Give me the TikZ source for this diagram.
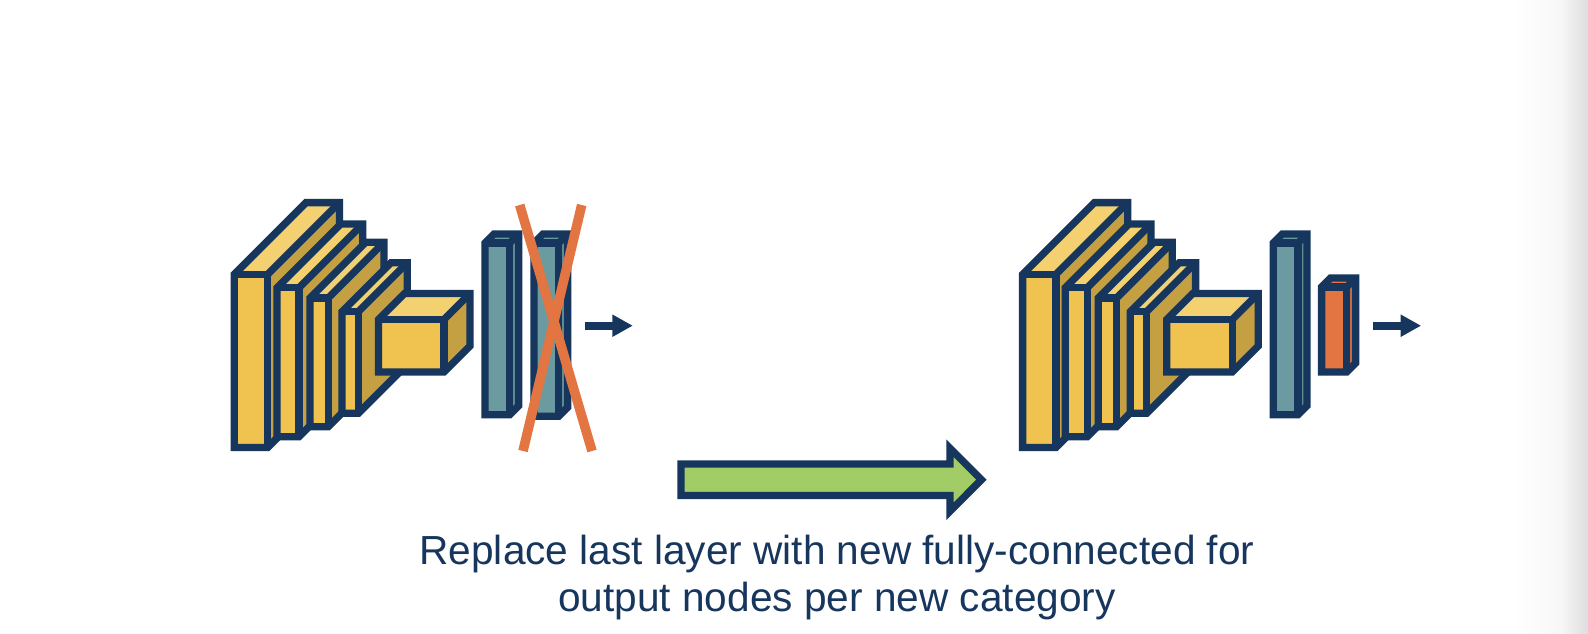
\documentclass[tikz,border=0pt]{standalone}
\usepackage{fontspec}
\setmainfont{Liberation Sans}
\usetikzlibrary{arrows.meta}
\definecolor{navy}{HTML}{17365D}
\definecolor{yfront}{HTML}{F0C250}
\definecolor{ytop}{HTML}{F3D070}
\definecolor{yside}{HTML}{C4A042}
\definecolor{teal1}{HTML}{6B9AA1}
\definecolor{teal2}{HTML}{5F8B90}
\definecolor{orange1}{HTML}{E37542}
\definecolor{orange2}{HTML}{C96A3E}
\definecolor{green1}{HTML}{A2CD66}
\tikzset{
  boxedge/.style={draw=navy,line width=7.3pt,line join=miter,miter limit=10},
  crossbar/.style={draw=orange1,line width=9.6pt},
  flowarrow/.style={draw=navy,line width=7.6pt,-{Triangle[length=20.5pt,width=21pt]}},
  bigarrow/.style={boxedge,fill=green1},
  caption/.style={text=navy,font=\fontsize{40.6pt}{46pt}\selectfont,align=center,inner sep=0pt}
}
\newcommand{\layerbox}[8]{%
  \coordinate (A) at (#1,#2);
  \coordinate (B) at (#3,#2);
  \coordinate (C) at (#3,#4);
  \coordinate (D) at (#1,#4);
  \coordinate (E) at ([shift={(#5,-#5)}]A);
  \coordinate (F) at ([shift={(#5,-#5)}]B);
  \coordinate (G) at ([shift={(#5,-#5)}]C);
  \fill[#7] (A) -- (B) -- (F) -- (E) -- cycle;
  \fill[#8] (B) -- (C) -- (G) -- (F) -- cycle;
  \fill[#6] (A) -- (B) -- (C) -- (D) -- cycle;
  \draw[boxedge] (A) -- (E) -- (F) -- (G) -- (C) -- (D) -- cycle;
  \draw[boxedge] (A) -- (B) -- (C);
  \draw[boxedge] (B) -- (F);
}
\newcommand{\convstack}{%
  \layerbox{234.3}{274.3}{267.7}{447.4}{71.7}{yfront}{ytop}{yside}
  \layerbox{277}{287.7}{299}{436.7}{63.7}{yfront}{ytop}{yside}
  \layerbox{310}{298}{328.3}{426.7}{55.7}{yfront}{ytop}{yside}
  \layerbox{342}{311.7}{358.3}{413.3}{49}{yfront}{ytop}{yside}
  \layerbox{378.5}{319.5}{444}{372}{26}{yfront}{ytop}{yside}
}
\begin{document}
\begin{tikzpicture}[x=1pt,y=-1pt]
  \useasboundingbox (0,0) rectangle (1588,634);
  \fill[white] (0,0) rectangle (1588,634);
  \shade[left color=white,right color=black!3] (1515,0) rectangle (1560,634);
  \shade[left color=black!3,right color=black!13] (1560,0) rectangle (1588,634);

  % left network
  \begin{scope}
    \convstack
    \layerbox{485}{243}{509.7}{414.7}{9}{teal1}{teal1}{teal2}
    \layerbox{534}{243}{558.7}{416.2}{9}{teal1}{teal1}{teal2}
    \coordinate (x1a) at (519.7,205);
    \coordinate (x1b) at (592,451);
    \coordinate (x2a) at (581.7,205);
    \coordinate (x2b) at (523,451);
    \draw[crossbar] (x1a) -- (x1b);
    \draw[crossbar] (x2a) -- (x2b);
    \coordinate (outLa) at (585,325.7);
    \coordinate (outLb) at (632.8,325.7);
    \draw[flowarrow] (outLa) -- (outLb);
  \end{scope}

  % right network
  \begin{scope}[xshift=788.3pt]
    \convstack
    \layerbox{485}{243}{509.7}{414.7}{9}{teal1}{teal1}{teal2}
    \layerbox{533.3}{287}{558.4}{372}{9}{orange1}{orange1}{orange2}
    \coordinate (outRa) at (585,325.7);
    \coordinate (outRb) at (632.8,325.7);
    \draw[flowarrow] (outRa) -- (outRb);
  \end{scope}

  % big arrow
  \draw[bigarrow] (680.9,463.9) -- (950,463.9) -- (950,448.2) -- (981.4,479.7)
     -- (950,511.2) -- (950,495.5) -- (680.9,495.5) -- cycle;

  \node[caption,anchor=base] (captext) at (837,564) {Replace last layer with new fully-connected for};
  \node[caption,anchor=base] (captext2) at (837,611) {output nodes per new category};
\end{tikzpicture}
\end{document}
